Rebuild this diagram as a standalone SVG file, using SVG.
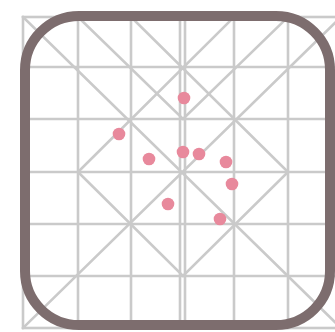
<svg xmlns="http://www.w3.org/2000/svg" width="335" height="332" viewBox="0 0 335 332">
  <style>
    .g { stroke: #cacaca; stroke-width: 2.6; fill: none; stroke-linecap: square; }
    .frame { stroke: #7d6d6e; stroke-width: 10; fill: none; }
    .dot { fill: #e8899c; }
  </style>
  <rect width="335" height="332" fill="#ffffff"/>
  <g id="grid">
    <rect class="g" x="23" y="17" width="318" height="311"/>
    <path class="g" d="M78 17V328 M131 17V328 M180 17V328 M185 17V328 M234 17V328 M288 17V328"/>
    <path class="g" d="M23 67H341 M23 119H341 M23 172H341 M23 224H341 M23 276H341"/>
    <path class="g" d="M23 17L341 328 M341 17L23 328"/>
    <path class="g" d="M78 17L183 119L288 17"/>
    <path class="g" d="M131 17L288 172L183 276L78 172L234 17"/>
  </g>
  <g id="frame">
    <rect class="frame" x="25" y="16" width="305" height="309" rx="54" ry="54"/>
  </g>
  <g id="dots">
    <circle class="dot" cx="184" cy="98" r="6.3"/>
    <circle class="dot" cx="119" cy="134" r="6.3"/>
    <circle class="dot" cx="149" cy="159" r="6.3"/>
    <circle class="dot" cx="183" cy="152" r="6.3"/>
    <circle class="dot" cx="199" cy="154" r="6.3"/>
    <circle class="dot" cx="226" cy="162" r="6.3"/>
    <circle class="dot" cx="232" cy="184" r="6.3"/>
    <circle class="dot" cx="168" cy="204" r="6.3"/>
    <circle class="dot" cx="220" cy="219" r="6.3"/>
  </g>
</svg>
